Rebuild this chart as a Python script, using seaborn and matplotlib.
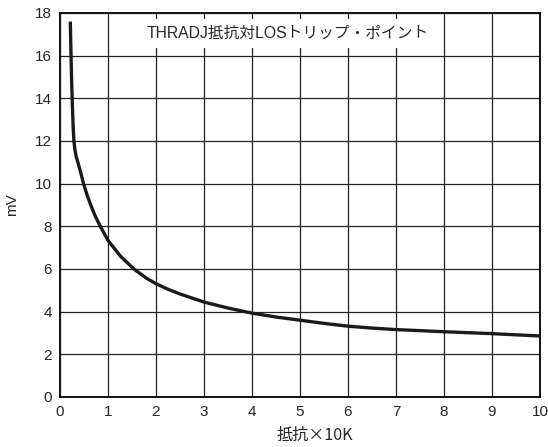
import numpy as np
import pandas as pd
import matplotlib
matplotlib.use("Agg")
import matplotlib.pyplot as plt
import seaborn as sns

# resistance (x10K) vs LOS trip point (mV)
resistance = [0.215, 0.225, 0.235, 0.245, 0.255, 0.265, 0.275, 0.29, 0.31, 0.34,
              0.385, 0.44, 0.49, 0.56, 0.63, 0.73, 0.84, 1.0, 1.26, 1.54,
              1.8, 2.0, 2.25, 2.5, 3.0, 3.5, 4.0, 4.5, 5.0, 5.5, 6.0, 6.5, 7.0,
              8.0, 9.0, 10.0]
trip_mv = [17.6, 16.5, 15.5, 14.6, 13.9, 13.2, 12.6, 12.0, 11.6, 11.25,
           10.9, 10.45, 10.0, 9.5, 9.06, 8.5, 8.0, 7.34, 6.6, 6.0,
           5.57, 5.31, 5.05, 4.83, 4.45, 4.17, 3.93, 3.75, 3.6, 3.45, 3.32, 3.23, 3.16,
           3.06, 2.97, 2.86]

x_ticks = list(range(0, 11))
y_ticks = list(range(0, 19, 2))
title = "THRADJ抵抗対LOSトリップ・ポイント"
x_label = "抵抗×10K"
y_label = "mV"

sns.set_style("white")
plt.rcParams['font.family'] = ['Liberation Sans', 'Noto Sans CJK JP', 'DejaVu Sans']

df = pd.DataFrame({"r": resistance, "mv": trip_mv})

fig, ax = plt.subplots(figsize=(5.48, 4.47), dpi=100)
fig.subplots_adjust(left=60/548, right=540/548, top=1-13/447, bottom=1-397/447)

sns.lineplot(data=df, x="r", y="mv", ax=ax, color="#1a1a1a", linewidth=2.4,
             estimator=None, sort=False, zorder=5, solid_joinstyle="round",
             solid_capstyle="butt")

ax.set_xlim(0, 10)
ax.set_ylim(0, 18)
ax.set_xticks(x_ticks)
ax.set_yticks(y_ticks)
ax.grid(True, color="#222222", linewidth=0.9)
ax.set_axisbelow(True)
ax.tick_params(length=0, labelsize=11, pad=6)
for s in ax.spines.values():
    s.set_color("#111111")
    s.set_linewidth(1.4)

ax.set_xlabel(x_label, fontsize=11.6, family=['Noto Sans CJK JP'])
ax.xaxis.set_label_coords(0.531, -0.078)
ax.set_ylabel(y_label, fontsize=11)
ax.yaxis.set_label_coords(-0.085, 0.5)

ax.text(4.75, 17.05, title, ha="center", va="center", fontsize=11.3, zorder=6,
        bbox=dict(facecolor="white", edgecolor="none", pad=5))

plt.savefig("out.png", dpi=100)
